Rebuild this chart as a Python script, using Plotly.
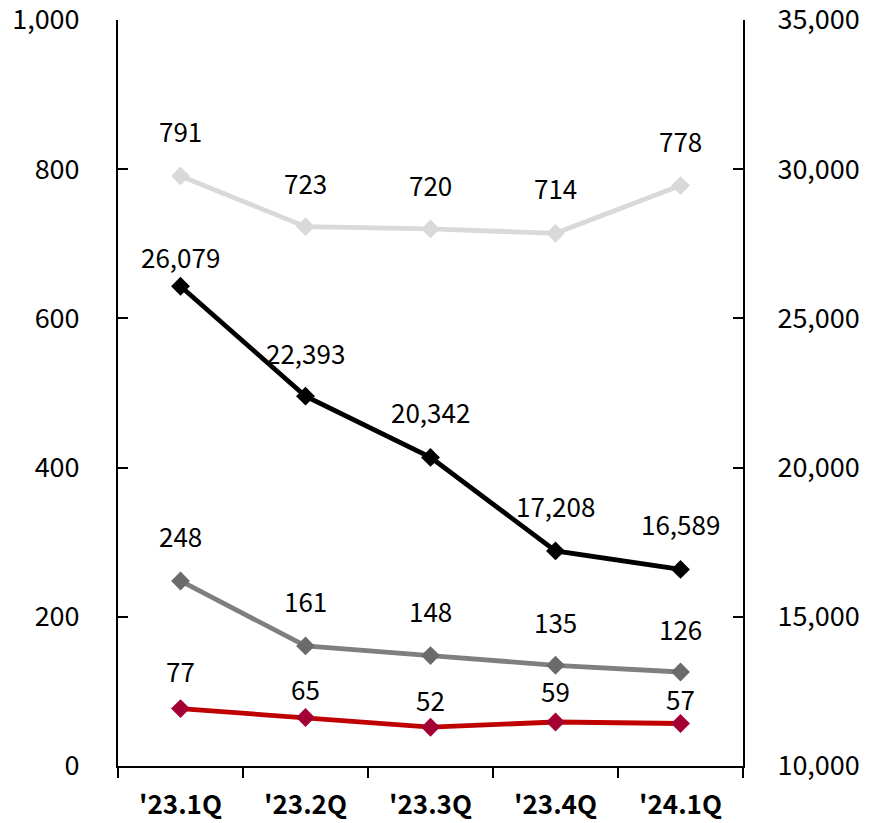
import plotly.graph_objects as go

categories = ["'23.1Q", "'23.2Q", "'23.3Q", "'23.4Q", "'24.1Q"]
light_series = [791, 723, 720, 714, 778]
black_series = [26079, 22393, 20342, 17208, 16589]
grey_series = [248, 161, 148, 135, 126]
red_series = [77, 65, 52, 59, 57]

left_ticks = [0, 200, 400, 600, 800, 1000]
right_ticks = [10000, 15000, 20000, 25000, 30000, 35000]

FONT = "Noto Sans CJK KR"
FS_AX = 27
FS_LB = 26

fig = go.Figure()

series_defs = [
    (light_series, "y", "#D9D9D9", "#D9D9D9", [45, 44, 44, 46, 45]),
    (grey_series, "y", "#7F7F7F", "#6B6B6B", [45, 45, 45, 44, 44]),
    (red_series, "y", "#C00000", "#A50034", [38, 29, 28, 31, 25]),
    (black_series, "y2", "#000000", "#000000", [30, 44, 46, 45, 46]),
]

for vals, yax, lcol, mcol, shifts in series_defs:
    fig.add_trace(go.Scatter(
        x=categories, y=vals, yaxis=yax, mode="lines+markers",
        line=dict(color=lcol, width=4.8),
        marker=dict(symbol="diamond", size=14.5, color=mcol),
        showlegend=False, hoverinfo="skip",
    ))
    for c, v, s in zip(categories, vals, shifts):
        fig.add_annotation(
            x=c, y=v, yref=yax, text=f"{v:,}", showarrow=False,
            yshift=s, xanchor="center", yanchor="middle",
            font=dict(family=FONT, size=FS_LB, color="#000000"),
        )

fig.update_layout(
    width=880, height=823,
    margin=dict(l=118, r=137, t=20, b=57),
    paper_bgcolor="white", plot_bgcolor="white",
    font=dict(family=FONT, size=FS_AX, color="#000000"),
    xaxis=dict(
        type="category", range=[-0.5, 4.5], automargin=False,
        showline=True, linecolor="#000000", linewidth=2,
        ticks="outside", tickson="boundaries", ticklen=10,
        tickcolor="#000000", tickwidth=2,
        showgrid=False, zeroline=False,
        tickfont=dict(family=FONT, size=FS_AX - 1, color="#000000", weight="bold"),
        ticklabelstandoff=15, ticklabeloverflow="allow",
    ),
    yaxis=dict(
        range=[0, 1000], tickvals=left_ticks, automargin=False,
        ticktext=[f"{t:,}" for t in left_ticks],
        showline=True, linecolor="#000000", linewidth=2,
        ticks="inside", ticklen=10, tickcolor="#000000", tickwidth=2,
        showgrid=False, zeroline=False,
        tickfont=dict(family=FONT, size=FS_AX, color="#000000"),
        ticklabelstandoff=31, ticklabeloverflow="allow",
    ),
    yaxis2=dict(
        range=[10000, 35000], tickvals=right_ticks, automargin=False,
        ticktext=[f"{t:,}" for t in right_ticks],
        overlaying="y", side="right",
        showline=True, linecolor="#000000", linewidth=2,
        ticks="inside", ticklen=10, tickcolor="#000000", tickwidth=2,
        showgrid=False, zeroline=False,
        tickfont=dict(family=FONT, size=FS_AX, color="#000000"),
        ticklabelstandoff=27, ticklabeloverflow="allow",
    ),
)

# remove the default 8px page margin so the figure fills the 880x823 window
fig.write_html("out.html",
               config={"displayModeBar": False},
               post_script="document.body.style.margin='0';")
